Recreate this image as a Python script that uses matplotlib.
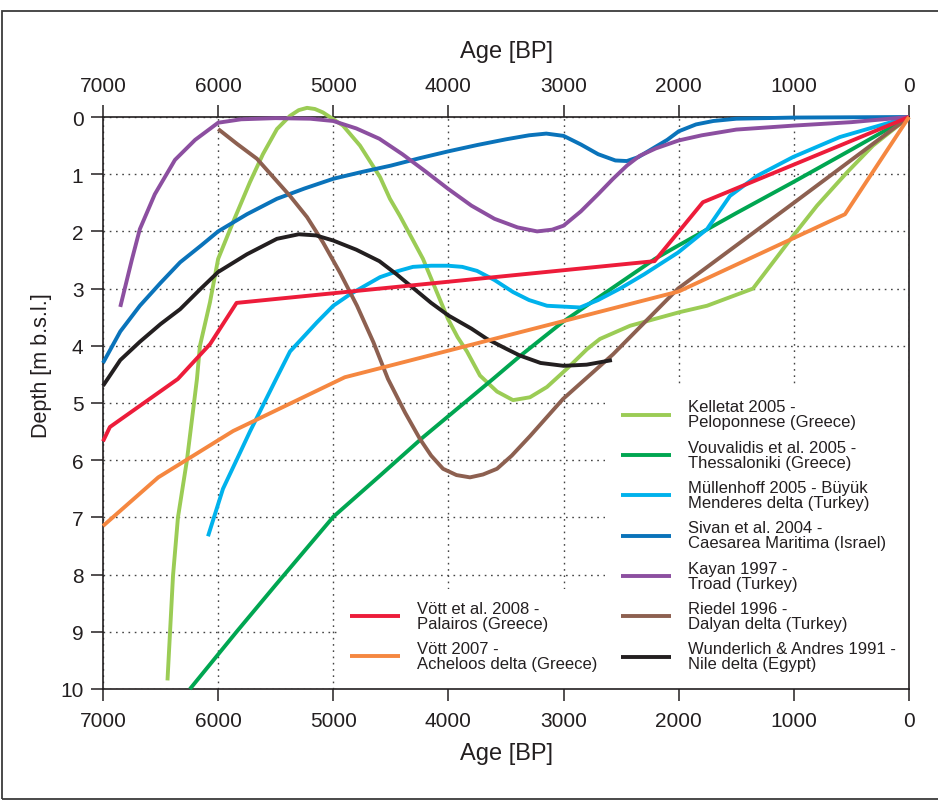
import matplotlib
matplotlib.use("Agg")
import matplotlib.pyplot as plt
from matplotlib.patches import Rectangle

plt.rcParams['font.family'] = ['Liberation Sans', 'DejaVu Sans']

# ---------------- data (Age BP, depth m b.s.l.) ----------------
kelletat_age = [6440, 6392, 6349, 6271, 6184, 6158, 6071, 6000, 5871, 5724, 5611, 5489, 5376, 5300,
                5228, 5160, 5090, 4916, 4768, 4594, 4508, 4421, 4221, 4004, 3920, 3839, 3726, 3578,
                3439, 3292, 3144, 2970, 2797, 2684, 2423, 1989, 1754, 1355, 1181, 1007, 799, 539, 313, 0]
kelletat_depth = [9.85, 8.02, 7.0, 6.0, 4.58, 4.0, 3.24, 2.48, 1.84, 1.14, 0.65, 0.21, -0.02, -0.12,
                  -0.16, -0.14, -0.08, 0.15, 0.5, 1.05, 1.43, 1.73, 2.48, 3.53, 3.85, 4.1, 4.52, 4.8,
                  4.95, 4.9, 4.72, 4.4, 4.06, 3.88, 3.65, 3.41, 3.3, 3.0, 2.54, 2.08, 1.55, 0.97, 0.5, 0.0]

vouvalidis_age = [6245, 5836, 5500, 5000, 4600, 4221, 3613, 3379, 3005, 2206, 2006, 1500, 1007, 500, 0]
vouvalidis_depth = [10.0, 8.99, 8.18, 6.99, 6.28, 5.6, 4.58, 4.18, 3.58, 2.48, 2.25, 1.68, 1.14, 0.57, 0.0]

muellenhoff_age = [6088, 5958, 5836, 5724, 5489, 5376, 5142, 5000, 4855, 4594, 4450, 4308, 4150, 4004,
                   3880, 3752, 3600, 3439, 3300, 3144, 2857, 2700, 2510, 2300, 2006, 1754, 1555, 1320,
                   1007, 600, 0]
muellenhoff_depth = [7.33, 6.5, 5.98, 5.5, 4.55, 4.1, 3.59, 3.3, 3.1, 2.8, 2.7, 2.62, 2.6, 2.6,
                     2.62, 2.69, 2.85, 3.06, 3.2, 3.3, 3.33, 3.2, 3.0, 2.75, 2.37, 1.96, 1.38, 1.03,
                     0.7, 0.35, 0.0]

sivan_age = [7000, 6850, 6680, 6500, 6330, 6150, 6000, 5750, 5490, 5250, 5000, 4750, 4500, 4250, 4000,
             3750, 3500, 3300, 3150, 3000, 2850, 2700, 2550, 2450, 2350, 2250, 2100, 2000, 1850,
             1700, 1500, 1000, 0]
sivan_depth = [4.3, 3.75, 3.3, 2.9, 2.54, 2.25, 2.0, 1.7, 1.43, 1.25, 1.08, 0.96, 0.85, 0.72, 0.6,
               0.49, 0.39, 0.32, 0.29, 0.33, 0.48, 0.65, 0.76, 0.77, 0.7, 0.58, 0.4, 0.25, 0.13,
               0.07, 0.03, 0.01, 0.0]

kayan_age = [6850, 6750, 6680, 6550, 6375, 6200, 6000, 5800, 5500, 5200, 5000, 4800, 4600, 4400, 4200,
             4000, 3800, 3600, 3400, 3230, 3100, 3000, 2850, 2700, 2570, 2450, 2340, 2200, 2000,
             1800, 1500, 1000, 500, 0]
kayan_depth = [3.32, 2.5, 1.96, 1.35, 0.75, 0.4, 0.1, 0.04, 0.02, 0.03, 0.07, 0.2, 0.38, 0.65, 0.95,
               1.26, 1.55, 1.78, 1.93, 2.0, 1.97, 1.9, 1.65, 1.35, 1.08, 0.85, 0.68, 0.55, 0.41,
               0.32, 0.22, 0.15, 0.09, 0.0]

riedel_age = [6000, 5836, 5663, 5376, 5228, 5090, 4942, 4794, 4651, 4525, 4376, 4247, 4150, 4047, 3930,
              3813, 3700, 3578, 3450, 3292, 3005, 2571, 2006, 1000, 0]
riedel_depth = [0.21, 0.47, 0.73, 1.38, 1.75, 2.19, 2.72, 3.3, 3.94, 4.58, 5.17, 5.63, 5.92, 6.15, 6.26,
                6.3, 6.25, 6.15, 5.92, 5.58, 4.93, 4.15, 3.0, 1.5, 0.0]

wunderlich_age = [7000, 6850, 6680, 6500, 6330, 6150, 6000, 5750, 5490, 5300, 5150, 5000, 4800, 4600,
                  4450, 4300, 4150, 4000, 3800, 3665, 3500, 3380, 3200, 3000, 2800, 2580]
wunderlich_depth = [4.7, 4.25, 3.93, 3.62, 3.36, 3.0, 2.71, 2.4, 2.13, 2.05, 2.07, 2.16, 2.32, 2.52,
                    2.75, 3.0, 3.25, 3.47, 3.7, 3.88, 4.05, 4.17, 4.3, 4.35, 4.33, 4.25]

voett2008_age = [7000, 6940, 6350, 6070, 5840, 2210, 1790, 0]
voett2008_depth = [5.67, 5.42, 4.58, 3.97, 3.25, 2.52, 1.49, 0.0]

voett2007_age = [7000, 6520, 5870, 4900, 2000, 556, 0]
voett2007_depth = [7.15, 6.3, 5.49, 4.55, 3.05, 1.7, 0.0]

right_labels = ["Kelletat 2005 -\nPeloponnese (Greece)",
                "Vouvalidis et al. 2005 -\nThessaloniki (Greece)",
                "Müllenhoff 2005 - Büyük\nMenderes delta (Turkey)",
                "Sivan et al. 2004 -\nCaesarea Maritima (Israel)",
                "Kayan 1997 -\nTroad (Turkey)",
                "Riedel 1996 -\nDalyan delta (Turkey)",
                "Wunderlich & Andres 1991 -\nNile delta (Egypt)"]
left_labels = ["Vött et al. 2008 -\nPalairos (Greece)",
               "Vött 2007 -\nAcheloos delta (Greece)"]

x_ticks = [7000, 6000, 5000, 4000, 3000, 2000, 1000, 0]
y_ticks = list(range(0, 11))

# ---------------- figure ----------------
TXT = '#231f20'
fig = plt.figure(figsize=(9.38, 8.03), dpi=100)
fig.patches.append(Rectangle((2 / 938, 3 / 803), 1.0, 1 - 15 / 803, transform=fig.transFigure,
                             fill=False, edgecolor='#3a3a3a', linewidth=1.3))
ax = fig.add_axes([103 / 938, 113 / 803, 806 / 938, 572 / 803])

lw = 2.8
series = [
    (kelletat_age, kelletat_depth, '#9bcc55'),
    (vouvalidis_age, vouvalidis_depth, '#00a651'),
    (muellenhoff_age, muellenhoff_depth, '#00b2ec'),
    (sivan_age, sivan_depth, '#0a73ba'),
    (kayan_age, kayan_depth, '#8c4fa0'),
    (riedel_age, riedel_depth, '#8d6050'),
    (wunderlich_age, wunderlich_depth, '#231f20'),
]
right_handles = []
for (a, d, c), lab in zip(series, right_labels):
    h, = ax.plot(a, d, color=c, lw=lw, solid_capstyle='butt', solid_joinstyle='round',
                 zorder=3, label=lab, clip_on=False)
    right_handles.append(h)
left_handles = []
for (a, d, c), lab in zip([(voett2008_age, voett2008_depth, '#ed1c3a'),
                           (voett2007_age, voett2007_depth, '#f58740')], left_labels):
    h, = ax.plot(a, d, color=c, lw=lw, solid_capstyle='butt', zorder=3.5, label=lab, clip_on=False)
    left_handles.append(h)

ax.set_xlim(7000, 0)
ax.set_ylim(10, 0)
ax.set_xticks(x_ticks)
ax.set_yticks(y_ticks)
ax.set_axisbelow(True)
ax.grid(True, linestyle=(0, (1.2, 3.3)), color='#444444', linewidth=1.0)

# white areas behind the legends (mask the grid)
ax.add_patch(Rectangle((0.294, 0), 0.335, 0.175, transform=ax.transAxes,
                       facecolor='white', edgecolor='none', zorder=1))
ax.add_patch(Rectangle((0.623, 0), 0.377, 0.533, transform=ax.transAxes,
                       facecolor='white', edgecolor='none', zorder=1))

for s in ax.spines.values():
    s.set_color(TXT)
    s.set_linewidth(1.2)
    s.set_zorder(2.5)

ax.tick_params(axis='x', which='both', top=True, labeltop=True, bottom=True, labelbottom=True,
               direction='out', length=8.6, width=1.1, pad=7.5, labelsize=15, colors=TXT)
ax.tick_params(axis='y', direction='out', length=8.6, width=1.1, pad=5.5, labelsize=15, colors=TXT)

ax.set_xlabel('Age [BP]', fontsize=17, color=TXT)
ax.xaxis.set_label_coords(0.501, (690 - 754) / 572)
ax.xaxis.label.set_va('center')
ax.text(0.501, (690 - 52) / 572, 'Age [BP]', transform=ax.transAxes, ha='center', va='center',
        fontsize=17, color=TXT)
ax.set_ylabel('Depth [m b.s.l.]', fontsize=15.5, color=TXT)
ax.yaxis.set_label_coords((42 - 103) / 806, (690 - 366) / 572)
ax.yaxis.label.set_va('center')

leg_kw = dict(frameon=False, fontsize=12, handlelength=3.0, handletextpad=1.0, labelspacing=0.62,
              borderpad=0, borderaxespad=0, loc='center left')
leg1 = ax.legend(handles=right_handles, bbox_to_anchor=((621 - 103) / 806, (690 - 536.4) / 572), **leg_kw)
for t in leg1.get_texts():
    t.set_linespacing(1.0)
    t.set_color(TXT)
ax.add_artist(leg1)
leg2 = ax.legend(handles=left_handles, bbox_to_anchor=((350 - 103) / 806, (690 - 637) / 572), **leg_kw)
for t in leg2.get_texts():
    t.set_linespacing(1.0)
    t.set_color(TXT)
for lg in (leg1, leg2):
    lg.set_zorder(5)

fig.savefig('out.png', dpi=100)
